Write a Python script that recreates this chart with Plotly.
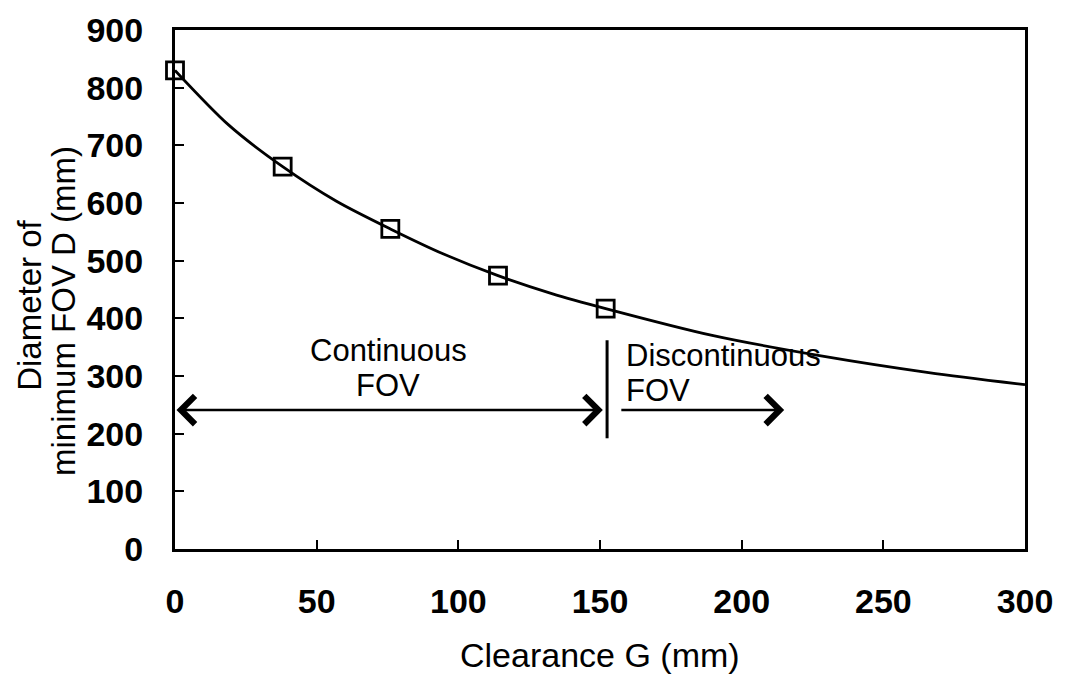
import plotly.graph_objects as go

# Measured points (open squares)
clearance_pts = [0, 38, 76, 114, 152]
diameter_pts = [830, 663, 555, 474, 417]

# Fitted curve
curve_x = [0, 19, 38, 57, 76, 95, 114, 133, 152, 190, 228, 266, 300]
curve_y = [830, 735, 663, 603, 555, 511, 474, 443, 417, 370, 335, 306, 285]

x_ticks = [0, 50, 100, 150, 200, 250, 300]
y_ticks = [0, 100, 200, 300, 400, 500, 600, 700, 800, 900]

boundary_x = 152.5          # continuous / discontinuous limit
arrow_y = 241
sep_y = [192, 362]
disc_arrow_x = [157, 215]

FONT = "Liberation Sans, Arial, sans-serif"

fig = go.Figure()
fig.add_trace(go.Scatter(x=curve_x, y=curve_y, mode="lines",
                         line=dict(color="black", width=2.8, shape="spline", smoothing=0.8),
                         showlegend=False, hoverinfo="skip"))
fig.add_trace(go.Scatter(x=clearance_pts, y=diameter_pts, mode="markers",
                         marker=dict(symbol="square-open", size=17, color="black",
                                     line=dict(width=2.8, color="black")),
                         showlegend=False, cliponaxis=False))

# separator line
fig.add_shape(type="line", x0=boundary_x, x1=boundary_x, y0=sep_y[0], y1=sep_y[1],
              line=dict(color="black", width=3))

# double arrow (continuous)
fig.add_annotation(x=boundary_x - 1.5, y=arrow_y, ax=0, ay=arrow_y, xref="x", yref="y",
                   axref="x", ayref="y", text="", showarrow=True, arrowhead=4, startarrowhead=4,
                   arrowside="end+start", arrowwidth=2.6, arrowsize=2.1, startarrowsize=2.1,
                   arrowcolor="black")
# single arrow (discontinuous)
fig.add_annotation(x=disc_arrow_x[1], y=arrow_y, ax=disc_arrow_x[0], ay=arrow_y, xref="x", yref="y",
                   axref="x", ayref="y", text="", showarrow=True, arrowhead=4,
                   arrowwidth=2.6, arrowsize=2.1, arrowcolor="black")

txt_font = dict(family=FONT, size=31, color="black")
fig.add_annotation(x=75.2, y=345, text="Continuous", showarrow=False, font=txt_font,
                   xanchor="center", yanchor="middle")
fig.add_annotation(x=75.2, y=283, text="FOV", showarrow=False, font=txt_font,
                   xanchor="center", yanchor="middle")
fig.add_annotation(x=158.5, y=336, text="Discontinuous", showarrow=False, font=txt_font,
                   xanchor="left", yanchor="middle")
fig.add_annotation(x=158.5, y=274, text="FOV", showarrow=False, font=txt_font,
                   xanchor="left", yanchor="middle")

# y-axis title (two lines)
ytitle_font = dict(family=FONT, size=33, color="black")
fig.add_annotation(xref="paper", yref="paper", x=-0.172, y=0.47, text="Diameter of",
                   showarrow=False, textangle=-90, font=ytitle_font,
                   xanchor="center", yanchor="middle")
fig.add_annotation(xref="paper", yref="paper", x=-0.131, y=0.458, text="minimum FOV D (mm)",
                   showarrow=False, textangle=-90, font=ytitle_font,
                   xanchor="center", yanchor="middle")
# x-axis title
fig.add_annotation(xref="paper", yref="paper", x=0.5, y=-0.204, text="Clearance G (mm)",
                   showarrow=False, font=dict(family=FONT, size=34, color="black"),
                   xanchor="center", yanchor="middle")

fig.update_xaxes(range=[0, 300], tickvals=x_ticks, ticks="inside", ticklen=9, tickwidth=2,
                 tickcolor="black", showline=True, linecolor="black", linewidth=3, mirror=True,
                 showgrid=False, zeroline=False, ticklabelstandoff=20, automargin=False,
                 tickfont=dict(family=FONT, size=34, color="black", weight="bold"))
fig.update_yaxes(range=[0, 900], tickvals=y_ticks, ticks="inside", ticklen=9, tickwidth=2,
                 tickcolor="black", showline=True, linecolor="black", linewidth=3, mirror=True,
                 showgrid=False, zeroline=False, ticklabelstandoff=22, automargin=False,
                 tickfont=dict(family=FONT, size=34, color="black", weight="bold"))

# page body adds an 8px margin, so the figure is sized/offset to compensate
fig.update_layout(width=1049, height=679, margin=dict(l=167, r=32, t=22, b=138),
                  plot_bgcolor="white", paper_bgcolor="white")

fig.write_html("out.html")
